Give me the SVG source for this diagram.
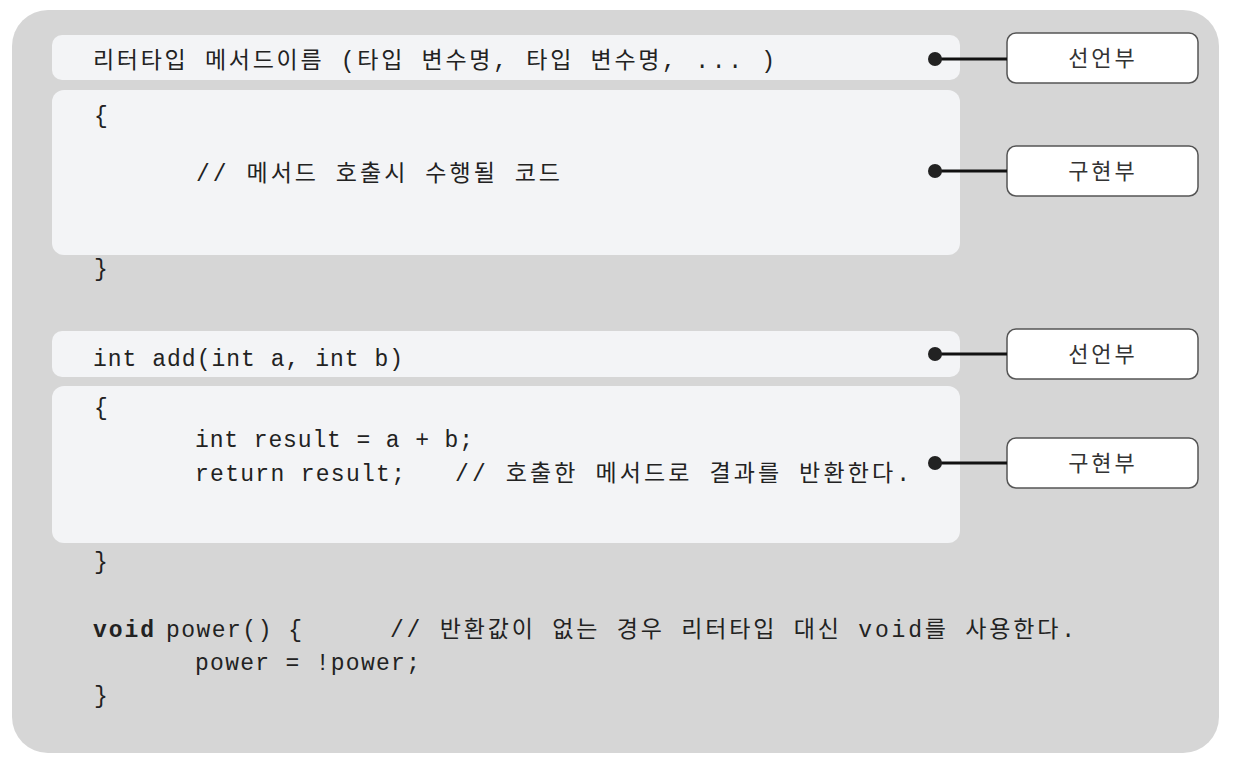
<svg xmlns="http://www.w3.org/2000/svg" width="1234" height="765" viewBox="0 0 1234 765">
  <style>
    .code { font-family: "Liberation Mono", "Noto Sans CJK KR", monospace; font-size: 23px; fill: #222; }
    .bold { font-weight: bold; }
    .panel { fill: #f3f4f6; }
    .label rect { fill: #ffffff; stroke: #555555; stroke-width: 1.5; }
    .label text { font-family: "Noto Sans CJK KR", "Noto Sans", sans-serif; font-size: 22px; fill: #333; text-anchor: middle; letter-spacing: 3px; }
    .conn line { stroke: #111; stroke-width: 3; }
    .conn circle { fill: #222; }
  </style>
  <rect width="1234" height="765" fill="#ffffff"/>
  <rect id="background" x="12" y="10" width="1207" height="743" rx="36" fill="#d6d6d6"/>

  <g id="decl1">
    <rect class="panel" x="52" y="35" width="908" height="45" rx="10"/>
    <text class="code" x="93" y="68" textLength="682" lengthAdjust="spacing">리터타입 메서드이름 (타입 변수명, 타입 변수명, ... )</text>
  </g>
  <g id="body1">
    <rect class="panel" x="52" y="90" width="908" height="165" rx="12"/>
    <text class="code" x="94" y="123">{</text>
    <text class="code" x="196" y="181" textLength="364" lengthAdjust="spacing">// 메서드 호출시 수행될 코드</text>
    <text class="code" x="94" y="276">}</text>
  </g>

  <g id="decl2">
    <rect class="panel" x="52" y="331" width="908" height="46" rx="10"/>
    <text class="code" x="93" y="366" textLength="310" lengthAdjust="spacing">int add(int a, int b)</text>
  </g>
  <g id="body2">
    <rect class="panel" x="52" y="386" width="908" height="157" rx="12"/>
    <text class="code" x="94" y="415">{</text>
    <text class="code" x="195" y="447" textLength="278" lengthAdjust="spacing">int result = a + b;</text>
    <text class="code" y="481"><tspan x="195" textLength="210" lengthAdjust="spacing">return result;</tspan><tspan x="455" textLength="455" lengthAdjust="spacing">// 호출한 메서드로 결과를 반환한다.</tspan></text>
    <text class="code" x="94" y="569">}</text>
  </g>

  <g id="power">
    <text class="code" y="637"><tspan class="bold" x="93" textLength="61" lengthAdjust="spacing">void</tspan><tspan x="166" textLength="136" lengthAdjust="spacing">power() {</tspan><tspan x="390" textLength="685" lengthAdjust="spacing">// 반환값이 없는 경우 리터타입 대신 void를 사용한다.</tspan></text>
    <text class="code" x="195" y="670" textLength="225" lengthAdjust="spacing">power = !power;</text>
    <text class="code" x="94" y="703">}</text>
  </g>

  <g id="label-decl1" class="label">
    <rect x="1007" y="33" width="191" height="50" rx="9"/>
    <text x="1103" y="66">선언부</text>
  </g>
  <g id="label-body1" class="label">
    <rect x="1007" y="146" width="191" height="50" rx="9"/>
    <text x="1103" y="179">구현부</text>
  </g>
  <g id="label-decl2" class="label">
    <rect x="1007" y="329" width="191" height="50" rx="9"/>
    <text x="1103" y="362">선언부</text>
  </g>
  <g id="label-body2" class="label">
    <rect x="1007" y="438" width="191" height="50" rx="9"/>
    <text x="1103" y="471">구현부</text>
  </g>

  <g id="connectors" class="conn">
    <line x1="935" y1="59" x2="1007" y2="59"/>
    <circle cx="935" cy="59" r="7"/>
    <line x1="935" y1="171" x2="1007" y2="171"/>
    <circle cx="935" cy="171" r="7"/>
    <line x1="935" y1="354" x2="1007" y2="354"/>
    <circle cx="935" cy="354" r="7"/>
    <line x1="935" y1="463" x2="1007" y2="463"/>
    <circle cx="935" cy="463" r="7"/>
  </g>
</svg>
